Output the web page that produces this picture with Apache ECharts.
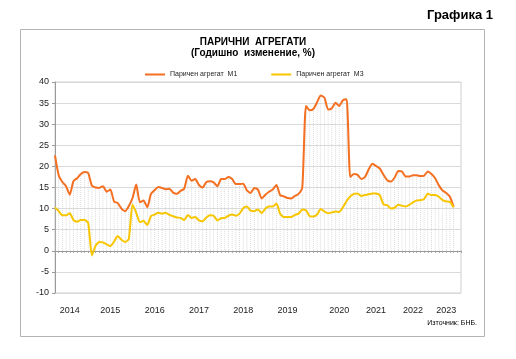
<!DOCTYPE html>
<html>
<head>
<meta charset="utf-8">
<script src="https://cdn.jsdelivr.net/npm/echarts@6/dist/echarts.min.js"></script>
<style>
html,body{margin:0;padding:0;background:#fff;}
#chart{width:516px;height:359px;}
</style>
</head>
<body>
<div id="chart"></div>
<script>
// ---- data ----
const m1 = [
  22.6, 17.9, 16.3, 15.3, 13.3, 16.5, 17.2, 18.2, 18.7, 18.4,
  15.4, 15.0, 14.9, 15.3, 14.0, 14.5, 11.7, 11.3, 10.0, 9.4,
  10.6, 12.5, 15.7, 11.5, 11.9, 10.3, 13.5, 14.4, 15.1, 14.9,
  14.6, 14.7, 13.8, 13.5, 14.2, 14.7, 17.8, 16.6, 17.0, 15.6,
  15.0, 16.3, 16.5, 16.2, 15.3, 17.0, 17.0, 17.5, 17.0, 15.8,
  15.8, 15.9, 14.3, 13.7, 14.9, 14.5, 12.4, 13.3, 14.0, 14.5,
  15.6, 13.2, 12.9, 12.5, 12.4, 13.0, 13.5, 15.0, 34.3, 33.3,
  33.6, 35.2, 36.8, 36.3, 33.5, 33.8, 35.1, 34.3, 35.7, 35.9,
  17.5, 18.2, 18.0, 17.0, 17.5, 19.3, 20.6, 20.1, 19.5, 18.0,
  16.7, 16.4, 17.3, 18.9, 18.8, 17.6, 17.6, 17.9, 17.9, 17.7,
  17.8, 18.8, 18.2, 17.2, 15.5, 14.3, 13.7, 12.8, 10.4
];
const m3 = [
  10.3, 9.4, 8.4, 8.4, 8.9, 7.3, 6.9, 7.3, 7.3, 6.6,
  -1.1, 1.2, 2.1, 2.0, 1.5, 1.1, 2.2, 3.5, 2.6, 2.1,
  2.8, 11.0, 9.0, 6.8, 7.1, 6.1, 8.2, 8.6, 9.0, 8.8,
  9.0, 8.5, 8.2, 7.9, 7.8, 7.3, 8.5, 7.8, 8.0, 7.2,
  7.0, 7.9, 8.4, 8.3, 7.2, 7.7, 7.8, 8.3, 8.6, 8.3,
  8.8, 10.1, 10.5, 9.5, 9.4, 9.8, 8.9, 10.0, 10.5, 10.5,
  11.2, 8.8, 8.0, 8.0, 8.0, 8.5, 8.8, 9.8, 9.6, 8.2,
  8.1, 8.6, 9.9, 9.3, 8.9, 9.1, 9.3, 9.2, 10.3, 11.8,
  12.9, 13.5, 13.6, 13.0, 13.2, 13.4, 13.6, 13.6, 13.2, 11.0,
  10.8, 10.0, 10.2, 10.9, 10.7, 10.5, 10.9, 11.5, 11.9, 12.0,
  12.3, 13.5, 13.2, 13.2, 12.8, 12.0, 11.7, 11.6, 10.3
];
const yearLabels = ['2014','2015','2016','2017','2018','2019','2020','2021','2022','2023'];
const yearLabelIdx = [4, 15, 27, 39, 51, 63, 77, 87, 97, 106];
const seriesNames = ['Паричен агрегат  M1', 'Паричен агрегат  M3'];

// monthly categories (plus two trailing empty slots that reach the plot edge)
const categories = [];
for (let i = 0; i < m1.length + 2; i++) {
  const y = 2014 + Math.floor(i / 12), m = (i % 12) + 1;
  categories.push(y + '-' + (m < 10 ? '0' : '') + m);
}
const yearMap = {};
yearLabelIdx.forEach((k, j) => { yearMap[k] = yearLabels[j]; });

const FONT = '"Liberation Sans", Arial, sans-serif';
const chart = echarts.init(document.getElementById('chart'), null, {renderer: 'canvas'});
chart.setOption({
  animation: false,
  backgroundColor: '#fff',
  textStyle: {fontFamily: FONT},
  graphic: [
    {type: 'rect', shape: {x: 20.5, y: 29.5, width: 464, height: 307},
     style: {fill: 'none', stroke: '#b4b4b4', lineWidth: 1}, silent: true, z: 0},
    {type: 'text', right: 23, top: 9,
     style: {text: 'Графика 1', font: 'bold 13px ' + FONT, fill: '#000'}},
    {type: 'text', x: 253, y: 42,
     style: {text: 'ПАРИЧНИ  АГРЕГАТИ', font: 'bold 10px ' + FONT, fill: '#000', align: 'center', verticalAlign: 'middle'}},
    {type: 'text', x: 253, y: 53.5,
     style: {text: '(Годишно  изменение, %)', font: 'bold 10px ' + FONT, fill: '#000', align: 'center', verticalAlign: 'middle'}},
    {type: 'text', x: 477, y: 323,
     style: {text: 'Източник: БНБ.', font: '7px ' + FONT, fill: '#000', align: 'right', verticalAlign: 'middle'}}
  ],
  legend: {
    left: 140, top: 66,
    itemWidth: 20, itemHeight: 2, itemGap: 34,
    icon: 'rect',
    textStyle: {fontSize: 7, color: '#222', fontFamily: FONT},
    data: seriesNames
  },
  grid: {left: 55, right: 55, top: 82, bottom: 66, show: true, borderColor: '#cfcfcf', borderWidth: 1},
  xAxis: [
    {
      type: 'category', data: categories, boundaryGap: false,
      axisLine: {onZero: true, lineStyle: {color: '#9a9a9a', width: 1}},
      axisTick: {show: true, interval: 0, length: 2, lineStyle: {color: '#9a9a9a'}},
      axisLabel: {show: false},
      splitLine: {show: false}
    },
    {
      type: 'category', data: categories, boundaryGap: false, position: 'bottom',
      axisLine: {show: false, onZero: false},
      axisTick: {show: false},
      axisLabel: {
        show: true, margin: 13, fontSize: 9, color: '#222', fontFamily: FONT,
        hideOverlap: false,
        interval: (idx) => yearMap[idx] !== undefined,
        formatter: (val, idx) => yearMap[idx] || ''
      },
      splitLine: {show: false}
    }
  ],
  yAxis: {
    type: 'value', min: -10, max: 40, interval: 5,
    axisLine: {show: true, lineStyle: {color: '#9a9a9a'}},
    axisTick: {show: true, length: 3, lineStyle: {color: '#9a9a9a'}},
    axisLabel: {fontSize: 9, color: '#222', margin: 6, fontFamily: FONT},
    splitLine: {show: true, lineStyle: {color: '#dadada', width: 1}}
  },
  series: [
    {
      type: 'custom', xAxisIndex: 0, silent: true, z: 1,
      data: m1.map((v, i) => [i, v]),
      renderItem: (params, api) => {
        const top = api.coord([api.value(0), api.value(1)]);
        const bot = api.coord([api.value(0), 0]);
        return {type: 'line', shape: {x1: top[0], y1: top[1], x2: bot[0], y2: bot[1]},
                style: {stroke: '#d2d2d2', lineWidth: 0.8, lineDash: [1, 1]}};
      }
    },
    {
      name: seriesNames[0], type: 'line', xAxisIndex: 0, data: m1,
      showSymbol: false, smooth: 0.2, z: 3,
      lineStyle: {color: '#f36f21', width: 2},
      itemStyle: {color: '#f36f21'}
    },
    {
      name: seriesNames[1], type: 'line', xAxisIndex: 0, data: m3,
      showSymbol: false, smooth: 0.2, z: 4,
      lineStyle: {color: '#f7c600', width: 2},
      itemStyle: {color: '#f7c600'}
    }
  ]
});
</script>
</body>
</html>
